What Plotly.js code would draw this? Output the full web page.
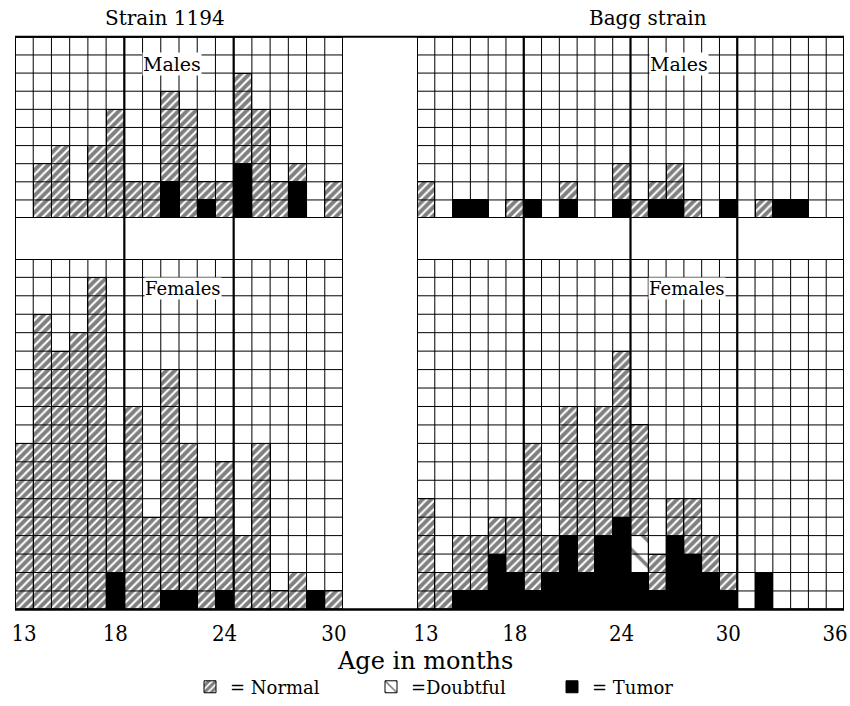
<!DOCTYPE html>
<html>
<head>
<meta charset="utf-8">
<script src="https://cdn.plot.ly/plotly-3.0.1.min.js"></script>
<style>html,body{margin:0;padding:0;background:#fff;}#chart{width:850px;height:706px;}</style>
</head>
<body>
<div id="chart"></div>
<script>
// ---- Data (counts of animals per age month) ----
const months1194 = [13,14,15,16,17,18,19,20,21,22,23,24,25,26,27,28,29,30];
const monthsBagg = [13,14,15,16,17,18,19,20,21,22,23,24,25,26,27,28,29,30,31,32,33,34,35,36];

// Strain 1194 - males
const m1194Normal = [0,3,4,1,4,6,2,2,5,6,1,2,5,6,2,1,0,2];
const m1194Tumor  = [0,0,0,0,0,0,0,0,2,0,1,0,3,0,0,2,0,0];
// Strain 1194 - females
const f1194Normal = [9,16,14,15,18,5,11,5,12,8,5,7,4,9,1,2,0,1];
const f1194Tumor  = [0,0,0,0,0,2,0,0,1,1,0,1,0,0,0,0,1,0];
// Bagg strain - males
const mBaggNormal = [2,0,0,0,0,1,0,0,1,0,0,2,1,1,2,1,0,0,0,1,0,0,0,0];
const mBaggTumor  = [0,0,1,1,0,0,1,0,1,0,0,1,0,1,1,0,0,1,0,0,1,1,0,0];
// Bagg strain - females
const fBaggNormal   = [6,2,3,3,2,3,8,2,7,5,7,9,6,2,2,3,2,1,0,0,0,0,0,0];
const fBaggDoubtful = [0,0,0,0,0,0,0,0,0,0,0,0,2,0,0,0,0,0,0,0,0,0,0,0];
const fBaggTumor    = [0,0,1,1,3,2,1,2,4,2,4,5,2,1,4,3,2,1,0,2,0,0,0,0];

const ticks1194 = [13,18,24,30];
const ticksBagg = [13,18,24,30,36];
const sectionBreaks1194 = [18.5,24.5];
const sectionBreaksBagg = [18.5,24.5,30.5];
const maleRows = 10;
const femaleRows = 19;

// ---- Layout geometry ----
const W = 850, H = 706;
const domL = [15/W, 343/W];
const domR = [417/W, 844/W];
const domM = [1-219/H, 1-37/H];
const domF = [1-612/H, 1-260/H];
const FONT = '"DejaVu Serif", "Liberation Serif", serif';
const FONTC = '"DejaVu Serif Condensed", "DejaVu Serif", serif';

const normalPattern = {shape:'/', fgcolor:'black', bgcolor:'white', size:6, solidity:0.65, fillmode:'overlay'};
const doubtPattern = {shape:'\\', fgcolor:'black', bgcolor:'white', size:18, solidity:0.2, fillmode:'overlay'};

function barTrace(x, y, xa, ya, kind, showLegend) {
  const t = {
    type:'bar', x:x, y:y, xaxis:xa, yaxis:ya, width:1,
    hoverinfo:'skip', showlegend:!!showLegend,
    marker:{line:{width:1, color:'black'}}
  };
  if (kind === 'normal') { t.name='= Normal'; t.legendgroup='n'; t.legendrank=1; t.marker.color='white'; t.marker.pattern=normalPattern; }
  if (kind === 'doubt')  { t.name='=Doubtful'; t.legendgroup='d'; t.legendrank=2; t.marker.color='white'; t.marker.pattern=doubtPattern; }
  if (kind === 'tumor')  { t.name='= Tumor'; t.legendgroup='t'; t.legendrank=3; t.marker.color='black'; }
  return t;
}

const data = [
  // left females (x, y)
  barTrace(months1194, f1194Tumor, 'x', 'y', 'tumor', false),
  barTrace(months1194, f1194Normal, 'x', 'y', 'normal', false),
  // left males (x2, y2)
  barTrace(months1194, m1194Tumor, 'x2', 'y2', 'tumor', false),
  barTrace(months1194, m1194Normal, 'x2', 'y2', 'normal', false),
  // right females (x3, y3)
  barTrace(monthsBagg, fBaggTumor, 'x3', 'y3', 'tumor', true),
  barTrace(monthsBagg, fBaggDoubtful, 'x3', 'y3', 'doubt', true),
  barTrace(monthsBagg, fBaggNormal, 'x3', 'y3', 'normal', true),
  // right males (x4, y4)
  barTrace(monthsBagg, mBaggTumor, 'x4', 'y4', 'tumor', false),
  barTrace(monthsBagg, mBaggNormal, 'x4', 'y4', 'normal', false)
];

function rangeOf(months){ return [months[0]-0.5, months[months.length-1]+0.5]; }

function baseAxis(extra){
  return Object.assign({showgrid:false, zeroline:false, showline:false, ticks:'', showticklabels:false, fixedrange:true}, extra);
}

const r1194 = rangeOf(months1194), rBagg = rangeOf(monthsBagg);

const layout = {
  width:W, height:H,
  margin:{l:0, r:0, t:0, b:0},
  paper_bgcolor:'white', plot_bgcolor:'white',
  barmode:'stack', bargap:0,
  font:{family:FONT, color:'black'},
  xaxis: baseAxis({domain:domL, anchor:'y', range:r1194, showticklabels:true, tickvals:ticks1194, ticktext:ticks1194.map(String), tickfont:{family:FONTC, size:22}, ticks:'outside', ticklen:4, tickcolor:'rgba(0,0,0,0)'}),
  yaxis: baseAxis({domain:domF, anchor:'x', range:[0,femaleRows]}),
  xaxis2: baseAxis({domain:domL, anchor:'y2', range:r1194}),
  yaxis2: baseAxis({domain:domM, anchor:'x2', range:[0,maleRows]}),
  xaxis3: baseAxis({domain:domR, anchor:'y3', range:rBagg, showticklabels:true, tickvals:ticksBagg, ticktext:ticksBagg.map(String), tickfont:{family:FONTC, size:22}, ticks:'outside', ticklen:4, tickcolor:'rgba(0,0,0,0)'}),
  yaxis3: baseAxis({domain:domF, anchor:'x3', range:[0,femaleRows]}),
  xaxis4: baseAxis({domain:domR, anchor:'y4', range:rBagg}),
  yaxis4: baseAxis({domain:domM, anchor:'x4', range:[0,maleRows]}),
  legend:{orientation:'h', x:190/W, xanchor:'left', y:1-690/H, yanchor:'middle', font:{family:FONT, size:18}, entrywidth:136, entrywidthmode:'pixels', traceorder:'normal', bgcolor:'rgba(0,0,0,0)'},
  shapes:[],
  annotations:[]
};

// grid cells drawn above bars
function gridShapes(xr, yr, xRange, ny){
  const s = [];
  for (let x = xRange[0]; x <= xRange[1]+1e-9; x += 1) {
    s.push({type:'line', xref:xr, yref:yr, x0:x, x1:x, y0:0, y1:ny, line:{color:'black', width:1}, layer:'above'});
  }
  for (let y = 0; y <= ny; y += 1) {
    s.push({type:'line', xref:xr, yref:yr, x0:xRange[0], x1:xRange[1], y0:y, y1:y, line:{color:'black', width:1}, layer:'above'});
  }
  s.push({type:'rect', xref:xr, yref:yr, x0:xRange[0], x1:xRange[1], y0:0, y1:ny, line:{color:'black', width:2}, layer:'above'});
  return s;
}
layout.shapes.push(...gridShapes('x', 'y', r1194, femaleRows));
layout.shapes.push(...gridShapes('x2', 'y2', r1194, maleRows));
layout.shapes.push(...gridShapes('x3', 'y3', rBagg, femaleRows));
layout.shapes.push(...gridShapes('x4', 'y4', rBagg, maleRows));

// panel edges and section breaks running through the strip
function fullLine(xr, x, w){
  return {type:'line', xref:xr, yref:'paper', x0:x, x1:x, y0:domF[0], y1:domM[1], line:{color:'black', width:w}, layer:'above'};
}
[r1194[0], r1194[1]].forEach(x => layout.shapes.push(fullLine('x', x, 2)));
[rBagg[0], rBagg[1]].forEach(x => layout.shapes.push(fullLine('x3', x, 2)));
sectionBreaks1194.forEach(x => layout.shapes.push(fullLine('x', x, 2.2)));
sectionBreaksBagg.forEach(x => layout.shapes.push(fullLine('x3', x, 2.2)));
// outer frame top & bottom across the gap
layout.shapes.push({type:'line', xref:'paper', yref:'paper', x0:domL[0], x1:domR[1], y0:domM[1], y1:domM[1], line:{color:'black', width:2}, layer:'above'});
layout.shapes.push({type:'line', xref:'paper', yref:'paper', x0:domL[0], x1:domR[1], y0:domF[0], y1:domF[0], line:{color:'black', width:2.5}, layer:'above'});

// text
function ann(text, x, y, xr, yr, size, bg){
  return {text:text, x:x, y:y, xref:xr, yref:yr, showarrow:false, font:{family:FONT, size:size, color:'black'}, bgcolor:bg||'rgba(0,0,0,0)', borderpad:0, xanchor:'center', yanchor:'middle'};
}
layout.annotations.push(ann('Strain 1194', 165/W, 1-18/H, 'paper', 'paper', 20));
layout.annotations.push(ann('Bagg strain', 648/W, 1-18/H, 'paper', 'paper', 20));
layout.annotations.push(ann('Age in months', 425/W, 1-664/H, 'paper', 'paper', 24));
layout.annotations.push(ann('Males', 21.1, 8.5, 'x2', 'y2', 19, 'white'));
layout.annotations.push(ann('Females', 21.7, 17.4, 'x', 'y', 18, 'white'));
layout.annotations.push(ann('Males', 27.2, 8.5, 'x4', 'y4', 19, 'white'));
layout.annotations.push(ann('Females', 27.7, 17.4, 'x3', 'y3', 18, 'white'));

Plotly.newPlot('chart', data, layout, {staticPlot:true, displayModeBar:false});
</script>
</body>
</html>
